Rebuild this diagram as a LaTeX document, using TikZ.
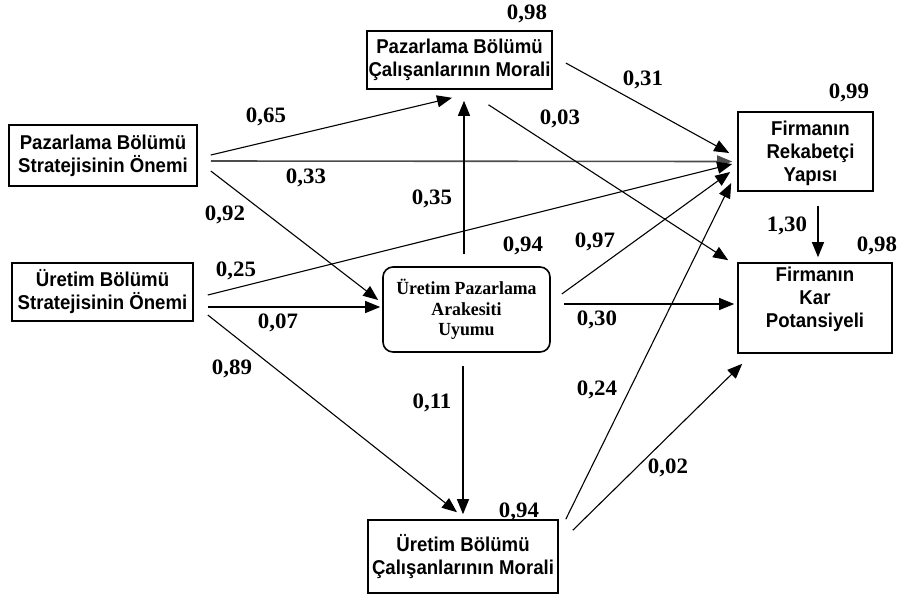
\documentclass[tikz,border=0pt]{standalone}
\usepackage{fontspec}
\setmainfont{Liberation Sans}
\newfontfamily\boxfont[FakeStretch=0.93]{Liberation Sans}
\newfontfamily\numfont[FakeStretch=1.04]{Liberation Serif}
\newfontfamily\serfont[FakeStretch=0.96]{Liberation Serif}
\usetikzlibrary{arrows.meta}
\begin{document}
\begin{tikzpicture}[x=1pt,y=-1pt,
 box/.style={draw, line width=1.6pt, inner sep=0pt, align=center, font=\boxfont\bfseries\fontsize{20}{23}\selectfont},
 conn/.style={line width=1.1pt, -{Triangle[length=15pt,width=12pt]}},
 coef/.style={font=\numfont\bfseries\fontsize{22}{24}\selectfont, inner sep=0pt}]
\useasboundingbox (0,0) rectangle (900,598);
% boxes
\node[box, minimum width=185pt, minimum height=58pt] (pbm) at (459.5,60) {Pazarlama Bölümü\\Çalışanlarının Morali};
\node[box, minimum width=188pt, minimum height=61pt] (pbs) at (103,155.5) {Pazarlama Bölümü\\Stratejisinin Önemi};
\node[box, minimum width=181pt, minimum height=58pt] (ubs) at (102.5,292) {Üretim Bölümü\\Stratejisinin Önemi};
\node[box, rounded corners=10pt, minimum width=167pt, minimum height=85pt, font=\serfont\bfseries\fontsize{18.5}{20.5}\selectfont] (upau) at (466.5,309.5) {Üretim Pazarlama\\Arakesiti\\Uyumu};
\node[box, minimum width=135pt, minimum height=79pt, text depth=0pt] (fry) at (805.5,151.5) {\hspace*{10pt}Firmanın\\\hspace*{10pt}Rekabetçi\\\hspace*{10pt}Yapısı};
\node[box, minimum width=154pt, minimum height=90pt] (kar) at (815,308) {Firmanın\\Kar\\Potansiyeli\\[-2pt]\mbox{}};
\node[box, minimum width=190pt, minimum height=73pt] (ubm) at (463,556.5) {Üretim Bölümü\\Çalışanlarının Morali};
% connectors from pbs
\draw[conn] ([shift={(13,-0.5)}]pbs.east) -- ([shift={(-7.5,8)}]pbm.south);
\draw[conn, black!70, line width=1.6pt] ([shift={(13,5.5)}]pbs.east) -- ([shift={(-5,10)}]fry.west);
\draw[conn] ([shift={(13,15.5)}]pbs.east) -- ([shift={(-4,-9.5)}]upau.west);
% from ubs
\draw[conn] ([shift={(14,3)}]ubs.east) -- ([shift={(-5,12.5)}]fry.west);
\draw[conn] ([shift={(14,15)}]ubs.east) -- ([shift={(-2,-2.5)}]upau.west);
\draw[conn] ([shift={(14,23)}]ubs.east) -- ([shift={(-6,-7)}]ubm.north);
% from upau
\draw[conn] ([shift={(-2.5,-12)}]upau.north) -- ([shift={(4.5,11)}]pbm.south);
\draw[conn] ([shift={(-3.5,13)}]upau.south) -- ([shift={(0,-5)}]ubm.north);
\draw[conn] ([shift={(11,-15.5)}]upau.east) -- ([shift={(-7,20.5)}]fry.west);
\draw[conn] ([shift={(13,-5.5)}]upau.east) -- ([shift={(-3,-4)}]kar.west);
% from pbm
\draw[conn] ([shift={(13,3)}]pbm.east) -- ([shift={(-8,1.5)}]fry.west);
\draw[conn] ([shift={(29,15)}]pbm.south) -- ([shift={(-9,-2)}]kar.north west);
% from ubm
\draw[conn] ([shift={(7,0)}]ubm.north east) -- ([shift={(-6,31.5)}]fry.west);
\draw[conn] ([shift={(14,11)}]ubm.north east) -- ([shift={(5,10)}]kar.south west);
% fry -> kar
\draw[conn] ([shift={(12.5,14)}]fry.south) -- ([shift={(3,-5)}]kar.north);
% coefficients
\node[coef] (c1) at (527,14) {0,98};
\node[coef] (c2) at (266,117) {0,65};
\node[coef] (c3) at (306,178) {0,33};
\node[coef] (c4) at (225,215) {0,92};
\node[coef] (c5) at (643,80) {0,31};
\node[coef] (c6) at (560,119) {0,03};
\node[coef] (c7) at (849,93) {0,99};
\node[coef] (c8) at (432,199) {0,35};
\node[coef] (c9) at (523,246) {0,94};
\node[coef] (c10) at (595,242) {0,97};
\node[coef] (c11) at (787,226) {1,30};
\node[coef] (c12) at (877,246) {0,98};
\node[coef] (c13) at (236,271) {0,25};
\node[coef] (c14) at (278,323) {0,07};
\node[coef] (c15) at (597,320) {0,30};
\node[coef] (c16) at (232,369) {0,89};
\node[coef] (c17) at (432,403) {0,11};
\node[coef] (c18) at (597,390) {0,24};
\node[coef] (c19) at (668,468) {0,02};
\node[coef] (c20) at (519,512) {0,94};
\end{tikzpicture}
\end{document}
